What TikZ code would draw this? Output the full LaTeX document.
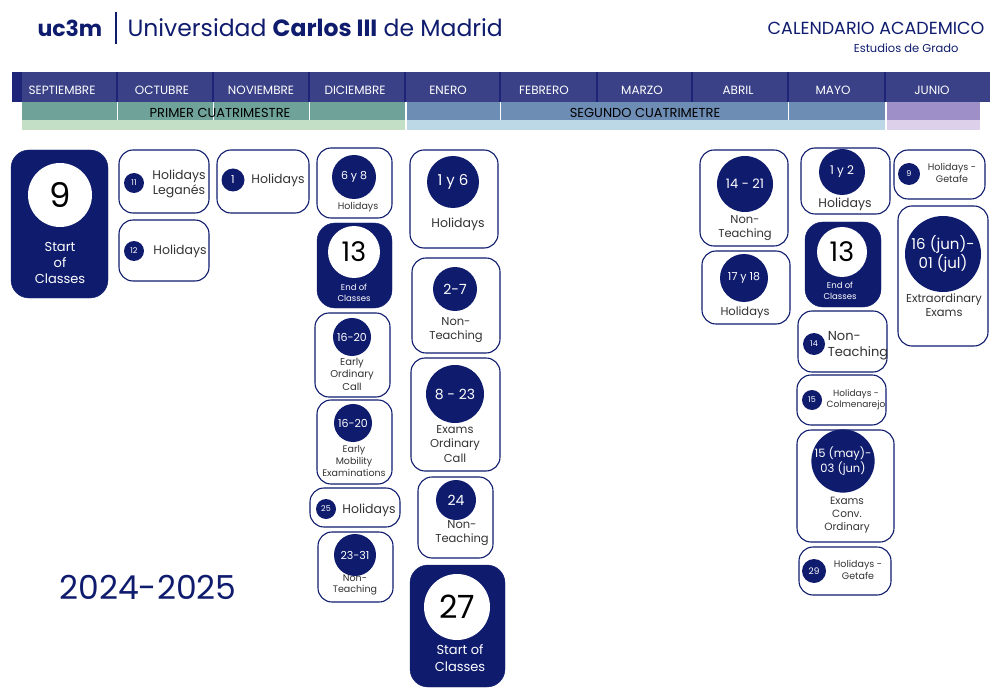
\documentclass[tikz,border=0pt]{standalone}
\usepackage{fontspec}
\setmainfont{Poppins}
\definecolor{navy}{HTML}{0F1C6E}
\definecolor{bar}{HTML}{3A4187}
\definecolor{barD}{HTML}{1E2478}
\definecolor{tealA}{HTML}{6FA39A}
\definecolor{tealB}{HTML}{C3DFC6}
\definecolor{bluA}{HTML}{6E8DB5}
\definecolor{bluB}{HTML}{BCD7E6}
\definecolor{purA}{HTML}{9F8FC8}
\definecolor{purB}{HTML}{DCD0EA}
\definecolor{txt}{HTML}{333333}
\newcommand{\fs}[1]{\fontsize{#1}{\dimexpr #1pt*125/100\relax}\selectfont}
\tikzset{
 ebox/.style={draw=navy,line width=1.1pt,rounded corners=14pt,fill=white},
 fbox/.style={draw=navy,fill=navy,rounded corners=18pt},
 dc/.style={circle,fill=navy,text=white,inner sep=0pt,align=center},
 wc/.style={circle,fill=white,text=black,inner sep=0pt,align=center},
 lbl/.style={text=txt,align=center,inner sep=0pt},
 wl/.style={text=white,align=center,inner sep=0pt},
 mon/.style={text=white,font=\fs{12}},
}
\begin{document}
\begin{tikzpicture}[x=1pt,y=-1pt]
\useasboundingbox (0,0) rectangle (1000,692);
% header
\node[text=navy,font=\fs{22}\bfseries,anchor=west] (uc) at (34,28) {uc3m};
\draw[navy,line width=1.2pt] (116,12) -- (116,44);
\node[text=navy,font=\fs{23.5},anchor=west] (uni) at (124,28) {Universidad \textbf{Carlos III} de Madrid};
\node[text=navy,font=\fs{17.5},anchor=east] (cal) at (988,28) {CALENDARIO ACADEMICO};
\node[text=navy,font=\fs{11.5},anchor=east] (est) at (962,48) {Estudios de Grado};
% month bar
\fill[bar] (12,72) rectangle (990,102);
\fill[barD] (12,72) rectangle (22,102);
\foreach \x in {117,213,309,405,500,597,692,788,885}{\draw[barD,line width=1.5pt] (\x,72) -- (\x,102);}
\fill[tealA] (22,102) rectangle (405,120);
\fill[tealB] (22,120) rectangle (405,130);
\fill[bluA] (407,102) rectangle (885,120);
\fill[bluB] (407,120) rectangle (885,130);
\fill[purA] (887,102) rectangle (980,120);
\fill[purB] (887,120) rectangle (980,130);
\foreach \x in {117,213,309}{\draw[white,line width=0.8pt] (\x,102) -- (\x,120);}
\foreach \x in {500,788}{\draw[white,line width=0.8pt] (\x,102) -- (\x,120);}
\node[font=\fs{13},text=black] (pc) at (220,113) {PRIMER CUATRIMESTRE};
\node[font=\fs{13},text=black] (sc) at (645,113) {SEGUNDO CUATRIMETRE};
\foreach \c/\m [count=\i] in {62/SEPTIEMBRE,162/OCTUBRE,261/NOVIEMBRE,355/DICIEMBRE,448/ENERO,544/FEBRERO,642/MARZO,738/ABRIL,833/MAYO,932/JUNIO}
 {\node[mon] (m\i) at (\c,90) {\m};}
% year
\node[text=navy,font=\fs{33}] (yr) at (148,587) {2024-2025};
% boxes
\draw[fbox] (11,150) rectangle (108,298);
\node[wc,minimum size=64pt,font=\fs{34}] (b1) at (60,195) {9};
\node[wl,font=\fs{13}] (t1) at (60,263) {Start\\of\\Classes};
\draw[ebox] (119,150) rectangle (209,213);
\node[dc,minimum size=20pt,font=\fs{8}] (b2) at (134,183) {11};
\node[lbl,font=\fs{12.5}] (t2) at (179,184) {Holidays\\Leganés};
\draw[ebox] (119,220) rectangle (209,281);
\node[dc,minimum size=20pt,font=\fs{8}] (b3) at (134,251) {12};
\node[lbl,font=\fs{12.5}] (t3) at (180,251) {Holidays};
\draw[ebox] (217,150) rectangle (309,213);
\node[dc,minimum size=23pt,font=\fs{11}] (b4) at (233,180) {1};
\node[lbl,font=\fs{12.5}] (t4) at (278,180) {Holidays};
\draw[ebox] (317,148) rectangle (392,218);
\node[dc,minimum size=44pt,font=\fs{11}] (b5) at (354,177) {6 y 8};
\node[lbl,font=\fs{9.5}] (t5) at (358,207) {Holidays};
\draw[fbox] (317,223) rectangle (392,308);
\node[wc,minimum size=52pt,font=\fs{27}] (b6) at (354,252) {13};
\node[wl,font=\fs{8.5}] (t6) at (354,293) {End of\\Classes};
\draw[ebox] (315,313) rectangle (390,397);
\node[dc,minimum size=38pt,font=\fs{11}] (b7) at (352,337) {16-20};
\node[lbl,font=\fs{10}] (t7) at (352,374) {Early\\Ordinary\\Call};
\draw[ebox] (317,400) rectangle (392,484);
\node[dc,minimum size=38pt,font=\fs{11}] (b8) at (353,423) {16-20};
\node[lbl,font=\fs{9.5}] (t8) at (354,461) {Early\\Mobility\\Examinations};
\draw[ebox] (310,488) rectangle (400,527);
\node[dc,minimum size=20pt,font=\fs{8}] (b9) at (326,509) {25};
\node[lbl,font=\fs{12.5}] (t9) at (369,510) {Holidays};
\draw[ebox] (318,532) rectangle (393,602);
\node[dc,minimum size=42pt,font=\fs{11}] (b10) at (355,555) {23-31};
\node[lbl,font=\fs{9.5}] (t10) at (355,585) {Non-\\Teaching};
\draw[ebox] (410,150) rectangle (498,248);
\node[dc,minimum size=52pt,font=\fs{15}] (b11) at (453,182) {1 y 6};
\node[lbl,font=\fs{12.5}] (t11) at (458,224) {Holidays};
\draw[ebox] (412,258) rectangle (500,353);
\node[dc,minimum size=44pt,font=\fs{14}] (b12) at (455,289) {2-7};
\node[lbl,font=\fs{11.5}] (t12) at (456,330) {Non-\\Teaching};
\draw[ebox] (411,358) rectangle (500,471);
\node[dc,minimum size=58pt,font=\fs{14}] (b13) at (455,394) {8 - 23};
\node[lbl,font=\fs{11.5}] (t13) at (455,444) {Exams\\Ordinary\\Call};
\draw[ebox] (418,477) rectangle (493,558);
\node[dc,minimum size=40pt,font=\fs{14}] (b14) at (456,500) {24};
\node[lbl,font=\fs{11.5}] (t14) at (462,533) {Non-\\Teaching};
\draw[fbox] (410,565) rectangle (505,687);
\node[wc,minimum size=66pt,font=\fs{32}] (b15) at (457,607) {27};
\node[wl,font=\fs{13}] (t15) at (460,658) {Start of\\Classes};
\draw[ebox] (700,150) rectangle (788,246);
\node[dc,minimum size=56pt,font=\fs{13}] (b16) at (745,184) {14 - 21};
\node[lbl,font=\fs{11.5}] (t16) at (745,228) {Non-\\Teaching};
\draw[ebox] (702,251) rectangle (790,324);
\node[dc,minimum size=48pt,font=\fs{11}] (b17) at (744,278) {17 y 18};
\node[lbl,font=\fs{11.5}] (t17) at (745,313) {Holidays};
\draw[ebox] (801,148) rectangle (890,214);
\node[dc,minimum size=46pt,font=\fs{12}] (b18) at (842,172) {1 y 2};
\node[lbl,font=\fs{12.5}] (t18) at (845,204) {Holidays};
\draw[fbox] (805,222) rectangle (881,307);
\node[wc,minimum size=50pt,font=\fs{27}] (b19) at (842,252) {13};
\node[wl,font=\fs{8.5}] (t19) at (840,291) {End of\\Classes};
\draw[ebox] (798,311) rectangle (887,372);
\node[dc,minimum size=22pt,font=\fs{8}] (b20) at (814,344) {14};
\node[lbl,font=\fs{13},align=left] (t20) at (858,346) {Non-\\Teaching};
\draw[ebox] (797,375) rectangle (886,425);
\node[dc,minimum size=20pt,font=\fs{8}] (b21) at (812,400) {15};
\node[lbl,font=\fs{9}] (t21) at (856,400) {Holidays -\\Colmenarejo};
\draw[ebox] (797,430) rectangle (894,542);
\node[dc,minimum size=62pt,font=\fs{11.5}] (b22) at (843,461) {15 (may)-\\03 (jun)};
\node[lbl,font=\fs{10.5}] (t22) at (847,515) {Exams\\Conv.\\Ordinary};
\draw[ebox] (799,547) rectangle (891,595);
\node[dc,minimum size=24pt,font=\fs{9}] (b23) at (814,571) {29};
\node[lbl,font=\fs{9.5}] (t23) at (858,570) {Holidays -\\Getafe};
\draw[ebox] (894,150) rectangle (985,199);
\node[dc,minimum size=22pt,font=\fs{8}] (b24) at (909,174) {9};
\node[lbl,font=\fs{9.5}] (t24) at (952,173) {Holidays -\\Getafe};
\draw[ebox] (898,206) rectangle (988,346);
\node[dc,minimum size=76pt,font=\fs{15}] (b25) at (943,254) {16 (jun)-\\01 (jul)};
\node[lbl,font=\fs{11.5}] (t25) at (944,305) {Extraordinary\\Exams};
\end{tikzpicture}
\end{document}
